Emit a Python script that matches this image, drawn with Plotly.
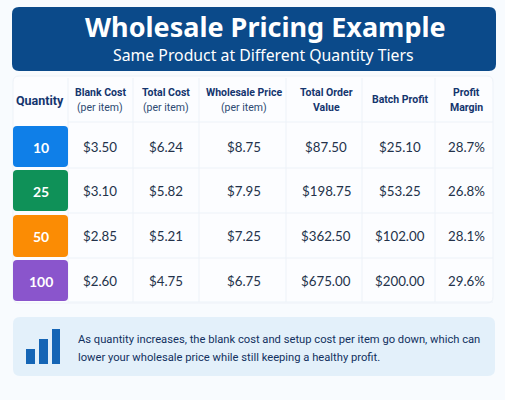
import plotly.graph_objects as go

title = "Wholesale Pricing Example"
subtitle = "Same Product at Different Quantity Tiers"
quantities = ["10", "25", "50", "100"]
blank_cost = ["$3.50", "$3.10", "$2.85", "$2.60"]
total_cost = ["$6.24", "$5.82", "$5.21", "$4.75"]
wholesale_price = ["$8.75", "$7.95", "$7.25", "$6.75"]
order_value = ["$87.50", "$198.75", "$362.50", "$675.00"]
batch_profit = ["$25.10", "$53.25", "$102.00", "$200.00"]
profit_margin = ["28.7%", "26.8%", "28.1%", "29.6%"]
note_lines = ["As quantity increases, the blank cost and setup cost per item go down, which can",
              "lower your wholesale price while still keeping a healthy profit."]
badge_colors = ["#0f7fe8", "#0f9158", "#fb8c04", "#8a55cc"]

NAVY = "#14356e"
LINE = "#edf2f8"
col_edges = [68, 133, 199, 286, 362, 435]
col_centers = [100, 166, 244, 326, 400, 466]
row_edges = [122, 168, 213, 258, 302]
row_centers = [147, 191, 236, 281]
badges = [(126, 167), (170, 211), (215, 257), (260, 301)]
shapes = []
texts = []


def rounded(x0, y0, x1, y1, r, fill, line=None):
    path = (f"M {x0+r} {y0} L {x1-r} {y0} Q {x1} {y0} {x1} {y0+r} L {x1} {y1-r} Q {x1} {y1} {x1-r} {y1} "
            f"L {x0+r} {y1} Q {x0} {y1} {x0} {y1-r} L {x0} {y0+r} Q {x0} {y0} {x0+r} {y0} Z")
    shapes.append(dict(type="path", path=path, fillcolor=fill, line=dict(color=line or fill, width=1 if line else 0),
                       xref="x", yref="y", layer="below"))


def text(x, y, s, size, color, family="Roboto", anchor="center"):
    texts.append(dict(x=x, y=y, text=s, showarrow=False, xref="x", yref="y", xanchor=anchor, yanchor="middle",
                      font=dict(size=size, color=color, family=family)))


# header banner
rounded(12, 7, 496, 71, 7, "#0b4a8a")
text(265, 26, f"<b>{title}</b>", 27, "white", "Noto Sans")
text(263, 55, subtitle, 15.8, "white", "Noto Sans")

# table
rounded(13, 76, 493, 303, 6, "#fcfdff", LINE)
for x in col_edges:
    shapes.append(dict(type="line", x0=x, x1=x, y0=78, y1=302, line=dict(color=LINE, width=1), layer="below"))
for y in row_edges:
    shapes.append(dict(type="line", x0=68, x1=493, y0=y, y1=y, line=dict(color=LINE, width=1), layer="below"))

text(40, 100, "<b>Quantity</b>", 12.5, NAVY)
for x, top, bottom in [(100, "Blank Cost", "(per item)"), (166, "Total Cost", "(per item)"),
                       (244, "Wholesale Price", "(per item)")]:
    text(x, 92, f"<b>{top}</b>", 10.5, NAVY)
    text(x, 107, bottom, 10.5, "#2d4a72")
for x, top, bottom in [(326, "Total Order", "Value"), (466, "Profit", "Margin")]:
    text(x, 92, f"<b>{top}</b>", 10.5, NAVY)
    text(x, 107, f"<b>{bottom}</b>", 10.5, NAVY)
text(400, 99, "<b>Batch Profit</b>", 10.5, NAVY)

columns = [blank_cost, total_cost, wholesale_price, order_value, batch_profit, profit_margin]
for i, q in enumerate(quantities):
    rounded(13, badges[i][0], 68, badges[i][1], 4, badge_colors[i])
    text(40.5, row_centers[i], f"<b>{q}</b>", 14, "white", "Lato")
    for x, col in zip(col_centers, columns):
        text(x, row_centers[i], col[i], 13.3, "#23324a", "Lato")

# note box
rounded(13, 317, 495, 376, 7, "#e3f0fa")
for x0, x1, y0 in [(26, 35, 349), (39, 48, 339), (52, 60, 329)]:
    shapes.append(dict(type="rect", x0=x0, x1=x1, y0=y0, y1=364, fillcolor="#1565b5", line=dict(width=0)))
text(76, 339, note_lines[0], 11.2, "#12305f", anchor="left")
text(76, 357, note_lines[1], 11.2, "#12305f", anchor="left")

fig = go.Figure()
fig.update_layout(
    width=505, height=400, margin=dict(l=0, r=0, t=0, b=0),
    paper_bgcolor="#f8fbfe", plot_bgcolor="#f8fbfe",
    xaxis=dict(range=[0, 505], visible=False, fixedrange=True),
    yaxis=dict(range=[400, 0], visible=False, fixedrange=True),
    shapes=shapes, annotations=texts, showlegend=False,
)
fig.write_html("out.html", config={"displayModeBar": False},
               post_script="document.body.style.margin='0';document.documentElement.style.overflow='hidden';")
